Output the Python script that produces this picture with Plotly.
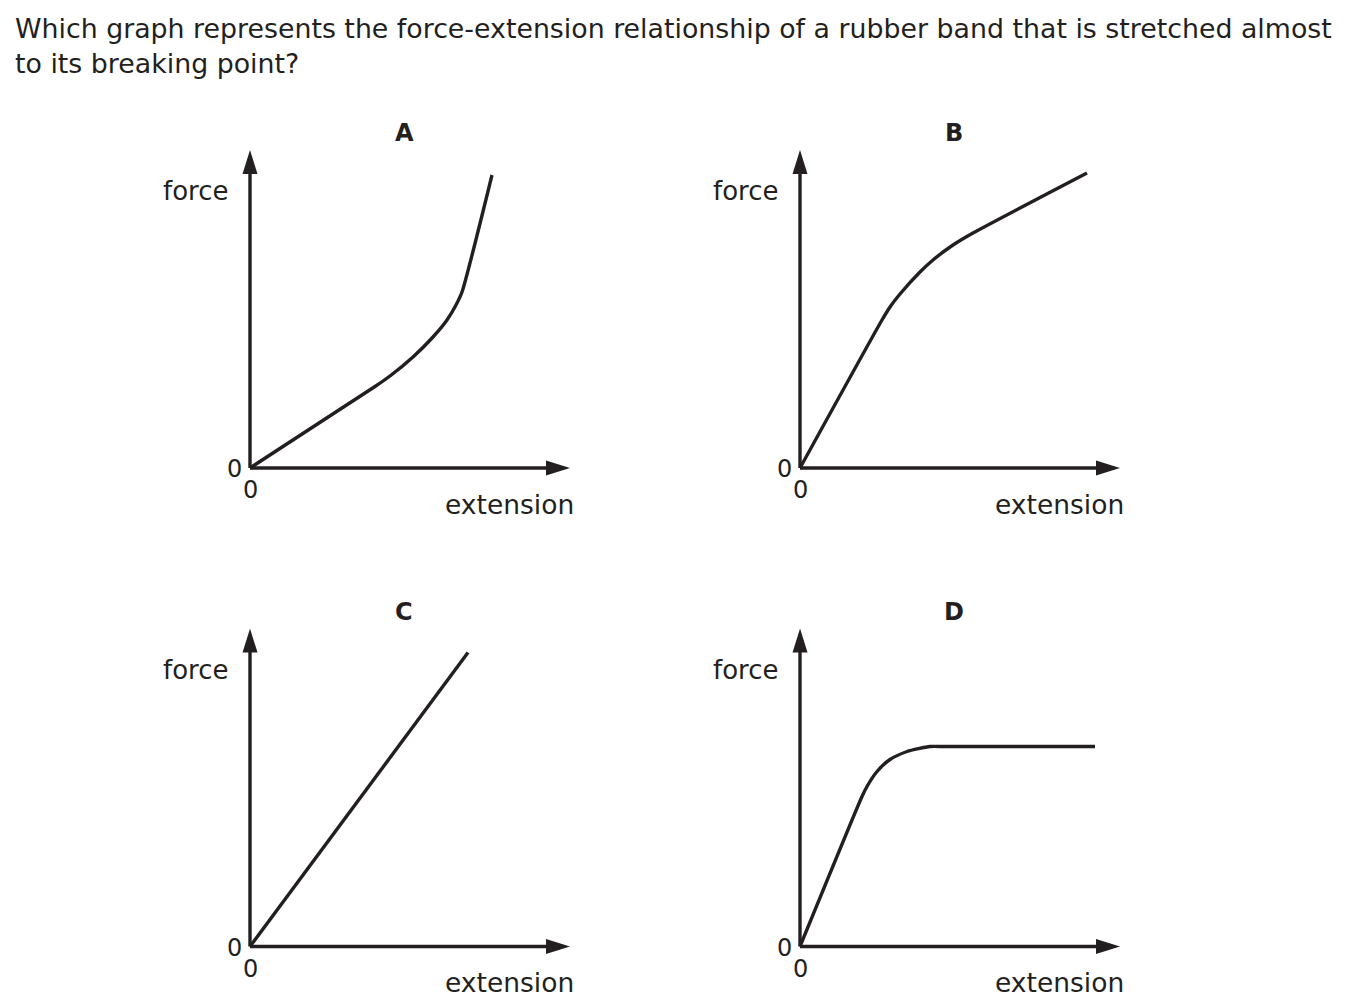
import plotly.graph_objects as go

OFF = 8                     # page body margin added by the browser
W, H = 1348 - OFF, 1006 - OFF
INK = "#231f20"
FONT = "DejaVu Sans"

# ---- data (extension, force) in arbitrary units ----
ext_A = [0, 12.5, 14.0, 16.3, 18.3, 19.7, 20.6, 21.2, 24.2]
force_A = [0, 8.15, 9.2, 11.1, 13.1, 14.8, 16.3, 17.6, 29.3]

ext_B = [0, 8.2, 9.0, 10.0, 12.0, 13.3, 15.3, 17.3, 28.7]
force_B = [0, 14.8, 16.1, 17.4, 19.6, 20.8, 22.3, 23.5, 29.5]

ext_C = [0, 21.8]
force_C = [0, 29.4]

ext_D = [0, 6.2, 6.7, 7.7, 9.0, 10.7, 13.0, 14.5, 29.5]
force_D = [0, 15.0, 16.0, 17.5, 18.7, 19.5, 20.0, 20.0, 20.0]

panel_letters = ["A", "B", "C", "D"]
x_label = "extension"
y_label = "force"
zero_label = "0"
question = ["Which graph represents the force-extension relationship of a rubber band that is stretched almost",
            "to its breaking point?"]

# ---- layout geometry (pixels in the reference image) ----
origins = [(250, 468), (800, 468), (250, 946.5), (800, 946.5)]
UNIT = 10.0          # pixels per data unit
XLO, XHI = -4.0, 34.5
YLO, YHI = -4.0, 33.0
X_TIP, Y_TIP = 32.0, 31.8   # arrow tips (units)
AH_LEN, AH_HALF = 2.4, 0.75
LW = 3.4

series = [(ext_A, force_A), (ext_B, force_B), (ext_C, force_C), (ext_D, force_D)]

fig = go.Figure()
shapes = []
annotations = []

def pxx(x):
    return (x - OFF) / W

def pxy(y):
    return 1 - (y - OFF) / H

for i, ((ox, oy), (xs, ys), letter) in enumerate(zip(origins, series, panel_letters)):
    n = "" if i == 0 else str(i + 1)
    xa, ya = "x" + n, "y" + n
    fig.add_trace(go.Scatter(x=xs, y=ys, mode="lines", xaxis=xa, yaxis=ya,
                             line=dict(color=INK, width=LW, shape="spline", smoothing=0.6),
                             cliponaxis=False, hoverinfo="skip", showlegend=False))
    dom_x = [pxx(ox + XLO * UNIT), pxx(ox + XHI * UNIT)]
    dom_y = [pxy(oy - YLO * UNIT), pxy(oy - YHI * UNIT)]
    fig.update_layout(**{
        "xaxis" + n: dict(domain=dom_x, range=[XLO, XHI], visible=False, anchor=ya, fixedrange=True),
        "yaxis" + n: dict(domain=dom_y, range=[YLO, YHI], visible=False, anchor=xa, fixedrange=True),
    })
    # axes lines
    shapes.append(dict(type="line", xref=xa, yref=ya, x0=0, y0=0, x1=X_TIP - AH_LEN + 0.2, y1=0,
                       line=dict(color=INK, width=LW)))
    shapes.append(dict(type="line", xref=xa, yref=ya, x0=0, y0=0, x1=0, y1=Y_TIP - AH_LEN + 0.2,
                       line=dict(color=INK, width=LW)))
    # arrowheads
    shapes.append(dict(type="path", xref=xa, yref=ya,
                       path=f"M {X_TIP},0 L {X_TIP-AH_LEN},{AH_HALF} L {X_TIP-AH_LEN},{-AH_HALF} Z",
                       fillcolor=INK, line=dict(color=INK, width=0)))
    shapes.append(dict(type="path", xref=xa, yref=ya,
                       path=f"M 0,{Y_TIP} L {AH_HALF},{Y_TIP-AH_LEN} L {-AH_HALF},{Y_TIP-AH_LEN} Z",
                       fillcolor=INK, line=dict(color=INK, width=0)))
    # labels
    annotations += [
        dict(text=f"<b>{letter}</b>", x=pxx(ox + 154), y=pxy(oy - 335), font=dict(size=24)),
        dict(text=y_label, x=pxx(ox - 55), y=pxy(oy - 277), font=dict(size=26)),
        dict(text=zero_label, x=pxx(ox - 16), y=pxy(oy + 1), font=dict(size=24)),
        dict(text=zero_label, x=pxx(ox), y=pxy(oy + 22), font=dict(size=24)),
        dict(text=x_label, x=pxx(ox + 259), y=pxy(oy + 36), font=dict(size=26.5)),
    ]

for a in annotations:
    a.update(xref="paper", yref="paper", showarrow=False, xanchor="center", yanchor="middle")
    a["font"].update(family=FONT, color=INK)

for line_text, ypix in zip(question, [29, 63]):
    annotations.append(dict(text=line_text, x=pxx(13), y=pxy(ypix), xref="paper", yref="paper",
                            showarrow=False, xanchor="left", yanchor="middle",
                            font=dict(family=FONT, size=26.8, color=INK)))

fig.update_layout(width=W, height=H, margin=dict(l=0, r=0, t=0, b=0),
                  paper_bgcolor="white", plot_bgcolor="white",
                  shapes=shapes, annotations=annotations, showlegend=False)

fig.write_html("out.html", config={"displayModeBar": False})
